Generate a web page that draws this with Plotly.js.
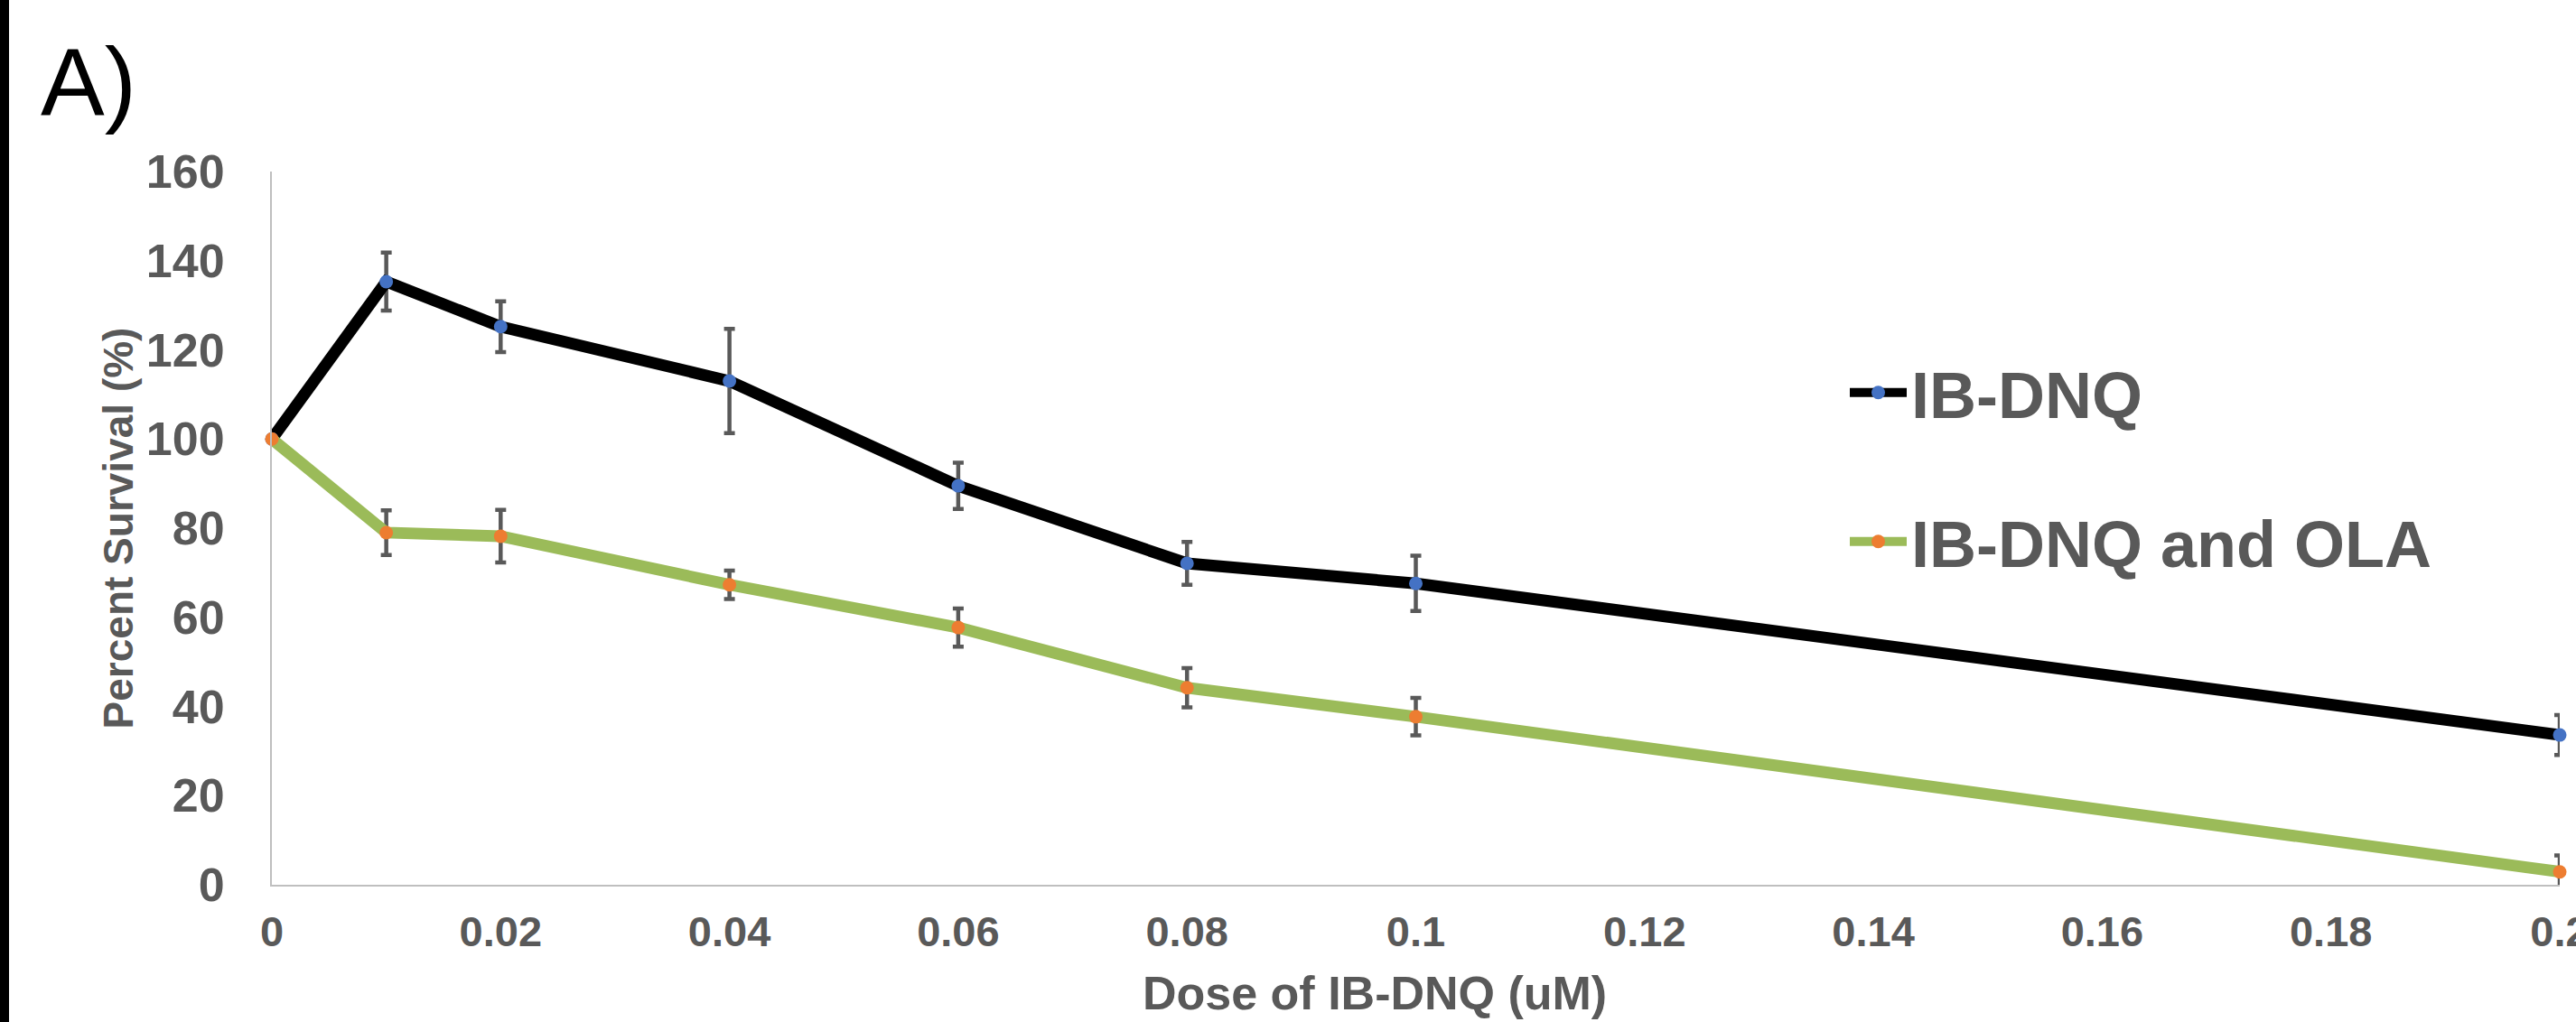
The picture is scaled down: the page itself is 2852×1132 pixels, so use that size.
<!DOCTYPE html>
<html>
<head>
<meta charset="utf-8">
<script src="https://cdn.plot.ly/plotly-3.0.1.min.js"></script>
<style>
  html, body { margin: 0; padding: 0; background: #ffffff; overflow: hidden; }
  #wrap { position: relative; width: 2852px; height: 1132px; }
  #chart { position: absolute; left: 0; top: 0; width: 2852px; height: 1132px; }
  #bar { position: absolute; left: 0; top: 0; width: 10px; height: 1132px; background: #000000; z-index: 5; }
</style>
</head>
<body>
<div id="wrap">
  <div id="chart"></div>
  <div id="bar"></div>
</div>
<script>
// ---- data ----
const dose = [0, 0.01, 0.02, 0.04, 0.06, 0.08, 0.1, 0.2];
const ibdnqSurvival = [100, 135.3, 125.2, 113.0, 89.5, 72.1, 67.6, 33.6];
const ibdnqError = [0, 6.5, 5.7, 11.7, 5.2, 4.8, 6.2, 4.5];
const comboSurvival = [100, 79.0, 78.2, 67.3, 57.7, 44.2, 37.7, 2.9];
const comboError = [0, 5.0, 5.9, 3.2, 4.3, 4.4, 4.2, 3.7];
const seriesNames = ["IB-DNQ", "IB-DNQ and OLA"];
const xTickVals = [0, 0.02, 0.04, 0.06, 0.08, 0.1, 0.12, 0.14, 0.16, 0.18, 0.2];
const xTickText = ["0", "0.02", "0.04", "0.06", "0.08", "0.1", "0.12", "0.14", "0.16", "0.18", "0.2"];
const yTickVals = [0, 20, 40, 60, 80, 100, 120, 140, 160];
const yTickText = ["0", "20", "40", "60", "80", "100", "120", "140", "160"];
const panelLabel = "A)";
const xTitle = "Dose of IB-DNQ (uM)";
const yTitle = "Percent Survival (%)";

const FONT = "Liberation Sans, Arial, sans-serif";
const GREY = "#595959";

const traces = [
  {
    type: "scatter", mode: "lines+markers", name: seriesNames[0],
    x: dose, y: ibdnqSurvival,
    line: { color: "#000000", width: 13 },
    marker: { color: "#4472C4", size: 15 },
    error_y: { type: "data", array: ibdnqError, visible: true, color: GREY, thickness: 4.5, width: 6 },
    cliponaxis: false,
    legend: "legend"
  },
  {
    type: "scatter", mode: "lines+markers", name: seriesNames[1],
    x: dose, y: comboSurvival,
    line: { color: "#9BBB59", width: 13 },
    marker: { color: "#ED7D31", size: 15 },
    error_y: { type: "data", array: comboError, visible: true, color: GREY, thickness: 4.5, width: 6 },
    cliponaxis: false,
    legend: "legend2"
  }
];

const legendFont = { family: FONT, size: 72, color: GREY, weight: "bold" };

const layout = {
  width: 2852, height: 1132,
  margin: { l: 301, r: 18, t: 190, b: 152 },
  paper_bgcolor: "#ffffff", plot_bgcolor: "#ffffff",
  showlegend: true,
  title: {
    text: panelLabel,
    font: { family: FONT, size: 106, color: "#000000" },
    xref: "container", yref: "container",
    x: 45 / 2852, xanchor: "left",
    y: 1 - 90 / 1132, yanchor: "middle"
  },
  xaxis: {
    range: [0, 0.2],
    tickvals: xTickVals, ticktext: xTickText,
    showline: true, linecolor: "#BFBFBF", linewidth: 2,
    showgrid: false, zeroline: false, ticks: "",
    tickfont: { family: FONT, size: 47, color: GREY, weight: "bold" },
    ticklabelstandoff: 10,
    ticklabeloverflow: "allow"
  },
  yaxis: {
    range: [0, 160],
    tickvals: yTickVals, ticktext: yTickText,
    showline: true, linecolor: "#BFBFBF", linewidth: 2,
    showgrid: false, zeroline: false, ticks: "",
    tickfont: { family: FONT, size: 52, color: GREY, weight: "bold" },
    ticklabelstandoff: 40,
    title: { text: yTitle, font: { family: FONT, size: 46, color: GREY, weight: "bold" }, standoff: 0 }
  },
  legend: {
    xref: "paper", yref: "paper",
    x: (2043 - 301) / 2533, xanchor: "left",
    y: (980 - 435) / 790, yanchor: "middle",
    font: legendFont, bgcolor: "rgba(0,0,0,0)", itemwidth: 63
  },
  legend2: {
    xref: "paper", yref: "paper",
    x: (2043 - 301) / 2533, xanchor: "left",
    y: (980 - 600) / 790, yanchor: "middle",
    font: legendFont, bgcolor: "rgba(0,0,0,0)", itemwidth: 63
  },
  annotations: [
    {
      text: xTitle, showarrow: false,
      xref: "paper", yref: "paper",
      x: (1522 - 301) / 2533, xanchor: "center",
      y: (980 - 1131) / 790, yanchor: "bottom",
      font: { family: FONT, size: 52, color: GREY, weight: "bold" }
    }
  ]
};

Plotly.newPlot("chart", traces, layout, { displayModeBar: false, staticPlot: true });
</script>
</body>
</html>
